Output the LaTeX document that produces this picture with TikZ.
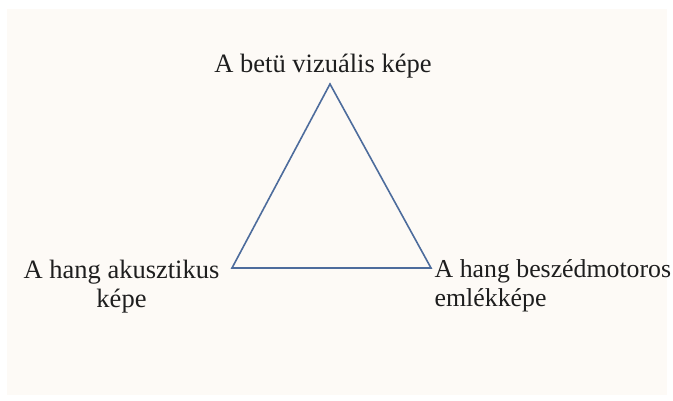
\documentclass[tikz,border=0pt]{standalone}
\usepackage{fontspec}
\setmainfont{Liberation Serif}
\definecolor{bgcream}{HTML}{FDFAF6}
\definecolor{triblue}{HTML}{4D6C9C}
\definecolor{txtgray}{HTML}{1E1E1E}
\begin{document}
\begin{tikzpicture}[x=1pt,y=-1pt,
  lbl/.style={inner sep=0pt,font=\fontsize{26.5}{29}\selectfont,text=txtgray},
  edge/.style={draw=triblue,line width=1.6pt,line join=miter}]
\useasboundingbox (0,0) rectangle (673,400);
\fill[white] (0,0) rectangle (673,400);
\fill[bgcream] (7,9) rectangle (667,395);
\coordinate (top) at (330,84);
\coordinate (bl) at (232,268);
\coordinate (br) at (431,268);
\draw[edge] (top) -- (bl) -- (br) -- cycle;
\node[lbl,anchor=base] (ttop) at (323,72) {A betü vizuális képe};
\node[lbl,anchor=north,align=center] (tleft) at (121.5,260) {A hang akusztikus\\képe};
\node[lbl,anchor=north west,align=left,font=\fontsize{25.8}{29}\selectfont] (tright) at (434.5,259) {A hang beszédmotoros\\emlékképe};
\end{tikzpicture}
\end{document}
